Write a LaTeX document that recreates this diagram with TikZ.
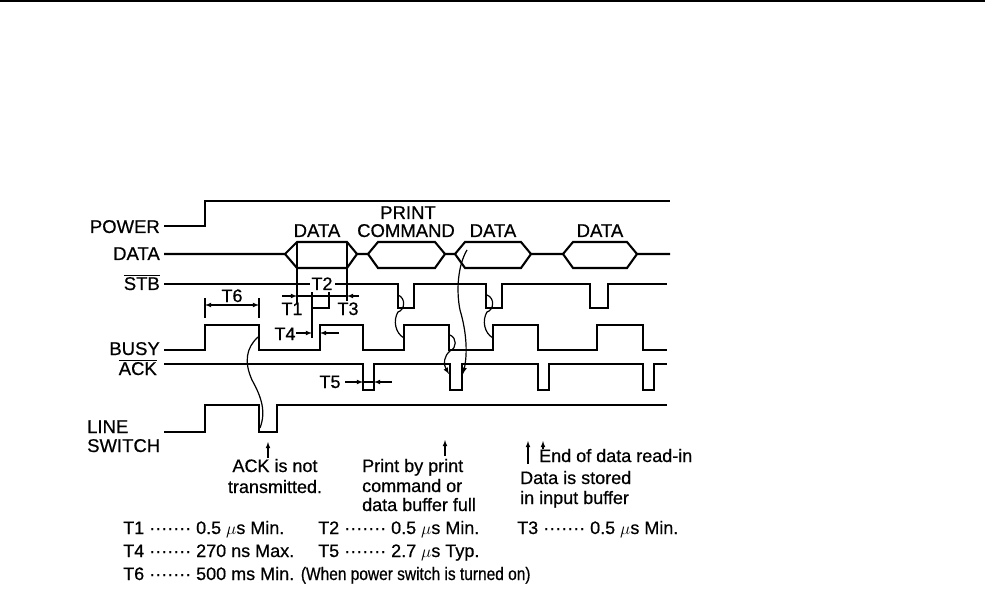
\documentclass[tikz,border=0pt]{standalone}
\usepackage{fontspec}
\setmainfont{Liberation Sans}[FakeBold=0.6]
\usetikzlibrary{arrows}
\tikzstyle{sig} = [line width=2.1pt, line join=miter]
\tikzstyle{dim} = [line width=1.1pt, >=latex]
\tikzstyle{cause} = [line width=1.2pt, >=latex]
\tikzstyle{lbl} = [anchor=base east, inner sep=0pt, font=\fontsize{18.5}{21}\selectfont]
\tikzstyle{toplbl} = [anchor=base, inner sep=0.5pt, font=\fontsize{18.5}{21}\selectfont]
\tikzstyle{note} = [anchor=base west, inner sep=0pt]
\newcommand{\ovl}[1]{$\overline{\mbox{#1}}$}

\begin{document}
\begin{tikzpicture}[x=1pt, y=-1pt, font=\fontsize{18}{21}\selectfont]
\useasboundingbox (0,0) rectangle (999,604);
\draw[line width=2pt] (0,1) -- (985,1);

% signal names
\node[lbl, name=power] at (160,233) {POWER};
\node[lbl, name=data] at (160,260) {DATA};
\node[lbl, name=stb] at (160,290) {\ovl{STB}};
\node[lbl, name=busy] at (160,355) {BUSY};
\node[lbl, name=ack] at (157,375) {\ovl{ACK}};
\node[note, name=line, font=\fontsize{18.5}{21}\selectfont] at (87,433) {LINE};
\node[note, name=switch, font=\fontsize{18.5}{21}\selectfont] at (87,452) {SWITCH};

% power
\draw[sig] (164,226) -- (205,226) -- (205,201) -- (670,201);

% data
\draw[sig] (164,254) -- (285,254) -- (297,242) -- (347,242) -- (357,254) -- (368,254)
  -- (378,242) -- (435,242) -- (445,254) -- (455,254) -- (465,242) -- (521,242)
  -- (531,254) -- (563,254) -- (573,242) -- (627,242) -- (637,254) -- (670,254);
\draw[sig] (285,254) -- (297,268) -- (347,268) -- (357,254);
\draw[sig] (368,254) -- (378,268) -- (435,268) -- (445,254);
\draw[sig] (455,254) -- (465,268) -- (521,268) -- (531,254);
\draw[sig] (563,254) -- (573,268) -- (627,268) -- (637,254);
\draw[dim] (297,242) -- (297,303);
\draw[dim] (347,242) -- (347,301);

\node[toplbl, name=d1] at (317,237) {DATA};
\node[toplbl, name=print] at (408,219) {PRINT};
\node[toplbl, name=command] at (406,237) {COMMAND};
\node[toplbl, name=d3] at (493,237) {DATA};
\node[toplbl, name=d4] at (600,237) {DATA};

% strobe
\draw[sig] (164,284) -- (312,284) -- (312,308) -- (329,308) -- (329,284) -- (398,284)
  -- (398,308) -- (414,308) -- (414,284) -- (486,284) -- (486,308) -- (502,308)
  -- (502,284) -- (590,284) -- (590,308) -- (608,308) -- (608,284) -- (667,284);
\node[anchor=base, fill=white, inner sep=2pt, name=t2] at (322,290) {T2};

% busy
\draw[sig] (164,350) -- (205,350) -- (205,325) -- (259,325) -- (259,350) -- (320,350)
  -- (320,325) -- (363,325) -- (363,350) -- (404,350) -- (404,325) -- (449,325)
  -- (449,350) -- (493,350) -- (493,325) -- (538,325) -- (538,350) -- (597,350)
  -- (597,325) -- (643,325) -- (643,350) -- (667,350);

% acknowledge
\draw[sig] (164,364) -- (363,364) -- (363,390) -- (374,390) -- (374,364) -- (450,364)
  -- (450,390) -- (462,390) -- (462,364) -- (538,364) -- (538,390) -- (549,390)
  -- (549,364) -- (643,364) -- (643,390) -- (654,390) -- (654,364) -- (667,364);

% line switch
\draw[sig] (164,432) -- (205,432) -- (205,405) -- (259,405) -- (259,432) -- (277,432)
  -- (277,405) -- (667,405);

% timing marks
\draw[dim,->] (282,296) -- (297,296);
\draw[dim] (297,296) -- (347,296);
\draw[dim,->] (359,296) -- (347,296);
\node[anchor=base, name=t1] at (292,315) {T1};
\node[anchor=base, name=t3] at (348,315) {T3};

\draw[dim] (312,308) -- (312,338);
\draw[dim,->] (296,333) -- (312,333);
\draw[dim,->] (339,333) -- (320,333);
\node[anchor=base, name=t4] at (285,340) {T4};

\draw[dim,->] (345,382) -- (363,382);
\draw[dim] (363,382) -- (374,382);
\draw[dim,->] (392,382) -- (374,382);
\node[anchor=base, name=t5] at (330,388) {T5};

\draw[dim] (205,298) -- (205,318);
\draw[dim] (259,298) -- (259,318);
\draw[dim,<->] (205,305) -- (259,305);
\node[anchor=base, name=t6] at (232,302) {T6};

% causes
\draw[cause] (258,337) .. controls (246,348) and (244,362) .. (252,380)
  .. controls (262,398) and (266,412) .. (260,428);
\draw[cause] (398,295) .. controls (406,298) and (405,310) .. (398,312)
  .. controls (393,320) and (395,333) .. (404,338);
\draw[cause] (487,295) .. controls (495,298) and (494,310) .. (487,312)
  .. controls (482,320) and (484,333) .. (493,338);
\draw[cause,->] (450,335) .. controls (457,338) and (457,348) .. (450,351)
  .. controls (444,356) and (443,364) .. (449,374);
\draw[cause,->] (467,250) .. controls (458,265) and (456,290) .. (460,310)
  .. controls (466,330) and (468,352) .. (463,374);

% remarks
\draw[dim,->] (268,458) -- (268,442);
\node[anchor=base, name=ack1] at (275,472) {ACK is not};
\node[anchor=base, name=ack2] at (275,493) {transmitted.};

\draw[dim,->] (445,456) -- (445,440);
\node[note, name=prt1] at (362,472) {Print by print};
\node[note, name=prt2] at (362,492) {command or};
\node[note, name=prt3] at (362,511) {data buffer full};

\draw[dim,->] (528,464) -- (528,441);
\draw[dim,->] (543,449) -- (543,441);
\node[note, name=end] at (539,462) {End of data read-in};
\node[note, name=st1] at (520,484) {Data is stored};
\node[note, name=st2] at (520,504) {in input buffer};

\node[note, name=v1] at (123,534) {T1 ······· 0.5 $\mu$s Min.};
\node[note, name=v2] at (318,534) {T2 ······· 0.5 $\mu$s Min.};
\node[note, name=v3] at (517,534) {T3 ······· 0.5 $\mu$s Min.};
\node[note, name=v4] at (123,557) {T4 ······· 270 ns Max.};
\node[note, name=v5] at (318,557) {T5 ······· 2.7 $\mu$s Typ.};
\node[note, name=v6] at (123,580) {T6 ······· 500 ms Min. {\addfontfeature{FakeStretch=0.86}(When power switch is turned on)}};
\end{tikzpicture}
\end{document}
